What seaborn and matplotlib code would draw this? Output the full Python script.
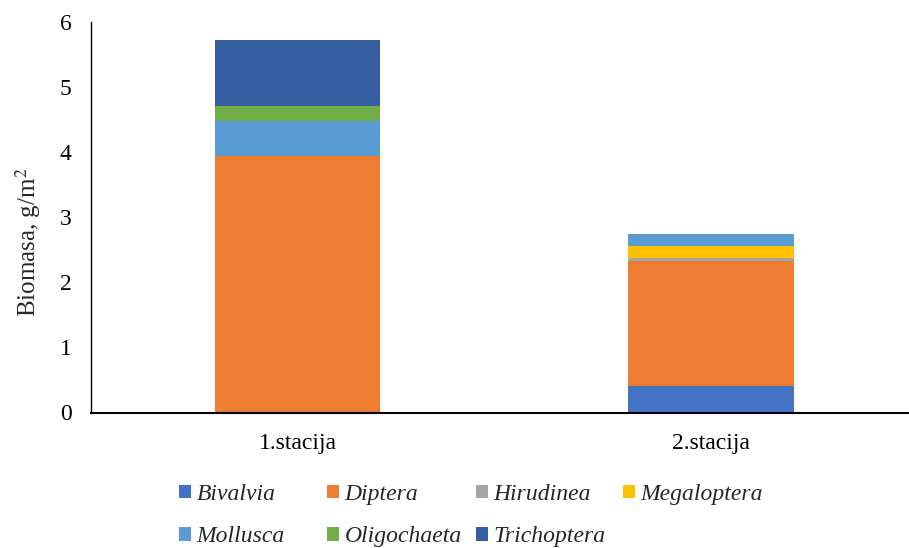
import matplotlib
matplotlib.use("Agg")
import matplotlib.pyplot as plt
from matplotlib.patches import Patch
import numpy as np
import pandas as pd
import seaborn as sns

# Biomass per taxon (g/m²) at the two sampling stations
stations = ["1.stacija", "2.stacija"]
taxa = ["Bivalvia", "Diptera", "Hirudinea", "Megaloptera",
        "Mollusca", "Oligochaeta", "Trichoptera"]
bivalvia = [0.0, 0.40]
diptera = [3.94, 1.93]
hirudinea = [0.0, 0.04]
megaloptera = [0.0, 0.19]
mollusca = [0.54, 0.19]
oligochaeta = [0.23, 0.0]
trichoptera = [1.01, 0.0]
y_ticks = [0, 1, 2, 3, 4, 5, 6]

series = [bivalvia, diptera, hirudinea, megaloptera,
          mollusca, oligochaeta, trichoptera]
colors = ["#4472C4", "#ED7D31", "#A5A5A5", "#FFC000",
          "#5B9BD5", "#70AD47", "#355EA3"]

sns.set_theme(style="white")
plt.rcParams["font.family"] = ["Liberation Serif", "DejaVu Serif"]
plt.rcParams["mathtext.fontset"] = "stix"

W, H = 909, 548
fig = plt.figure(figsize=(W / 100, H / 100), dpi=100)
ax = fig.add_axes([91 / W, (H - 412.5) / H, 826.5 / W, 390.5 / H])

# stacked bars: each taxon sits on top of the running total
bottom = np.zeros(len(stations))
for name, vals, col in zip(taxa, series, colors):
    df = pd.DataFrame({"stanica": stations, "biomasa": vals})
    sns.barplot(data=df, x="stanica", y="biomasa", color=col, saturation=1,
                width=0.4, bottom=bottom, linewidth=0, ax=ax)
    bottom = bottom + np.asarray(vals)

ax.set_ylim(0, 6)
ax.set_yticks(y_ticks)
ax.set_yticklabels([str(t) for t in y_ticks])
ax.set_xlabel("")
ax.set_ylabel("Biomasa, g/m$^{2}$", fontsize=18)
ax.yaxis.set_label_coords(-0.058, 0.437)
ax.tick_params(axis="y", length=0, pad=14, labelsize=17, colors="black")
ax.tick_params(axis="x", length=0, pad=14.5, labelsize=17, colors="black")
for s in ["top", "right"]:
    ax.spines[s].set_visible(False)
ax.spines["left"].set_color("black")
ax.spines["left"].set_linewidth(1.0)
ax.spines["bottom"].set_color("black")
ax.spines["bottom"].set_linewidth(1.5)

# legend laid out as equal-width columns of two rows each
handles = [Patch(facecolor=c, edgecolor="none", label=t)
           for t, c in zip(taxa, colors)]
columns = [[handles[0], handles[4]], [handles[1], handles[5]],
           [handles[2], handles[6]], [handles[3]]]
col_left = [179, 327, 476, 623]
for hs, x0 in zip(columns, col_left):
    fig.legend(handles=hs, ncol=1, frameon=False,
               loc="upper left", bbox_to_anchor=(x0 / W, 1 - 484 / H),
               borderaxespad=0, borderpad=0,
               prop={"family": ["Liberation Serif"], "style": "italic",
                     "size": 17},
               handlelength=0.49, handleheight=0.49, handletextpad=0.25,
               labelspacing=0.9)

fig.savefig("out.png", dpi=100)
